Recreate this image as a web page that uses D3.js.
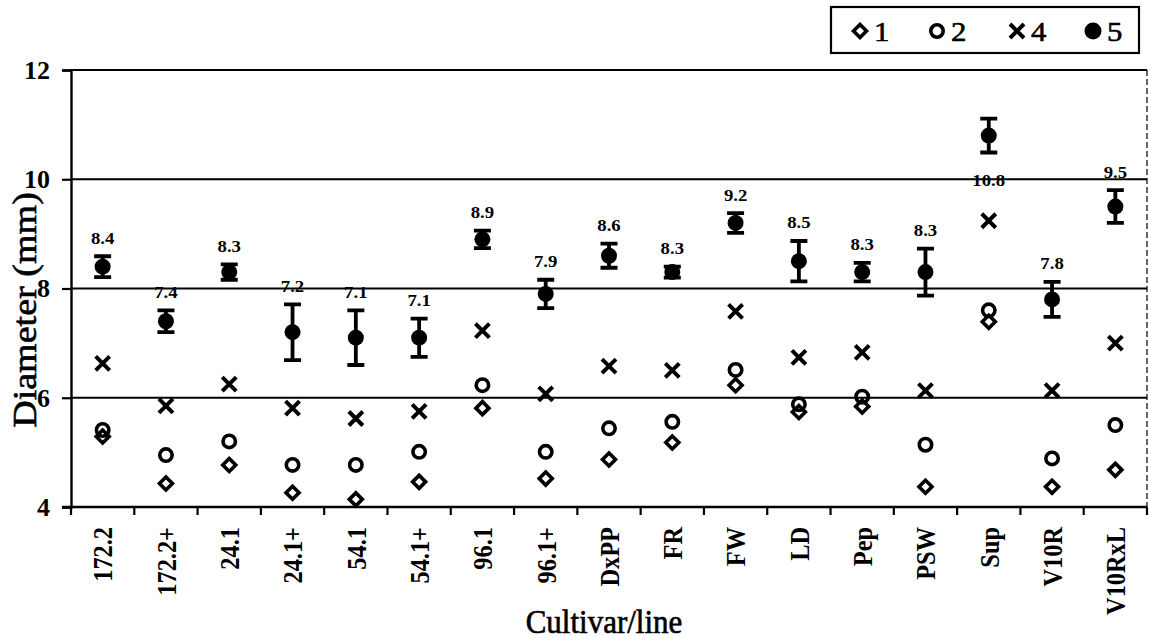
<!DOCTYPE html>
<html>
<head>
<meta charset="utf-8">
<script src="https://cdn.jsdelivr.net/npm/d3@7"></script>
<style>
  html, body { margin: 0; padding: 0; background: #fff; }
  svg { display: block; }
  text { font-family: "Liberation Serif", "Times New Roman", serif; fill: #000; }
</style>
</head>
<body>
<svg id="chart" width="1149" height="643"></svg>
<script>
// Fruit diameter per cultivar/line at four sampling dates
const categories = ["172.2", "172.2+", "24.1", "24.1+", "54.1", "54.1+", "96.1", "96.1+",
  "DxPP", "FR", "FW", "LD", "Pep", "PSW", "Sup", "V10R", "V10RxL"];
const series1 = [5.29, 4.43, 4.77, 4.26, 4.14, 4.46, 5.81, 4.52, 4.87, 5.18, 6.23, 5.74, 5.84, 4.37, 7.39, 4.37, 4.68];
const series2 = [5.41, 4.95, 5.20, 4.77, 4.77, 5.01, 6.23, 5.01, 5.44, 5.56, 6.51, 5.88, 6.02, 5.14, 7.60, 4.89, 5.50];
const series4 = [6.63, 5.85, 6.25, 5.81, 5.62, 5.75, 7.23, 6.07, 6.58, 6.50, 7.58, 6.74, 6.83, 6.13, 9.24, 6.13, 7.00];
const series5 = [8.4, 7.4, 8.3, 7.2, 7.1, 7.1, 8.9, 7.9, 8.6, 8.3, 9.2, 8.5, 8.3, 8.3, 10.8, 7.8, 9.5];
const series5Err = [0.19, 0.20, 0.14, 0.51, 0.50, 0.35, 0.16, 0.26, 0.22, 0.10, 0.18, 0.37, 0.17, 0.43, 0.31, 0.32, 0.30];
const labelsBelow = ["Sup"];
const yTicks = [4, 6, 8, 10, 12];
const legendItems = ["1", "2", "4", "5"];

const svg = d3.select("#chart");
const plot = { left: 71, right: 1147, top: 70, bottom: 507 };

const x = d3.scaleBand().domain(categories).range([plot.left, plot.right]).padding(0);
const y = d3.scaleLinear().domain([4, 12]).range([plot.bottom, plot.top]);
const cx = c => x(c) + x.bandwidth() / 2;

// marker drawing helpers
function diamond(g, px, py, r) {
  g.append("path")
    .attr("d", `M${px},${py - r}L${px + r},${py}L${px},${py + r}L${px - r},${py}Z`)
    .attr("fill", "none").attr("stroke", "#000").attr("stroke-width", 3.6)
    .attr("stroke-linejoin", "miter");
}
function ring(g, px, py, r) {
  g.append("circle").attr("cx", px).attr("cy", py).attr("r", r)
    .attr("fill", "none").attr("stroke", "#000").attr("stroke-width", 3.6);
}
function cross(g, px, py, r) {
  g.append("path")
    .attr("d", `M${px - r},${py - r}L${px + r},${py + r}M${px - r},${py + r}L${px + r},${py - r}`)
    .attr("stroke", "#000").attr("stroke-width", 4).attr("fill", "none");
}
function dot(g, px, py, r) {
  g.append("circle").attr("cx", px).attr("cy", py).attr("r", r).attr("fill", "#000");
}

// gridlines
svg.append("g").selectAll("line")
  .data(yTicks.filter(t => t > 4))
  .join("line")
  .attr("x1", plot.left).attr("x2", plot.right)
  .attr("y1", d => y(d)).attr("y2", d => y(d))
  .attr("stroke", "#000").attr("stroke-width", 1.8);

// right frame edge
svg.append("line")
  .attr("x1", plot.right).attr("x2", plot.right)
  .attr("y1", plot.top).attr("y2", plot.bottom)
  .attr("stroke", "#000").attr("stroke-width", 1.2).attr("stroke-dasharray", "6,3");

// y axis
const yAxis = d3.axisLeft(y).tickValues(yTicks).tickSize(9).tickPadding(12).tickFormat(d3.format("d"));
const yg = svg.append("g").attr("transform", `translate(${plot.left},0)`).call(yAxis);
yg.select(".domain").attr("stroke", "#000").attr("stroke-width", 2.4);
yg.selectAll(".tick line").attr("stroke", "#000").attr("stroke-width", 2.2);
yg.selectAll(".tick text")
  .attr("font-family", "Liberation Serif").attr("font-weight", "bold")
  .attr("font-size", 26).attr("fill", "#000");

// x axis: ticks sit on the category boundaries
const boundaries = d3.range(categories.length + 1).map(i => plot.left + i * x.bandwidth());
const xg = svg.append("g");
xg.append("line")
  .attr("x1", plot.left - 9).attr("x2", plot.right)
  .attr("y1", plot.bottom).attr("y2", plot.bottom)
  .attr("stroke", "#000").attr("stroke-width", 2.4);
xg.selectAll("line.tk").data(boundaries).join("line").attr("class", "tk")
  .attr("x1", d => d).attr("x2", d => d)
  .attr("y1", plot.bottom).attr("y2", plot.bottom + 8)
  .attr("stroke", "#000").attr("stroke-width", 2.2);
xg.selectAll("text").data(categories).join("text")
  .attr("transform", d => `translate(${cx(d)},${plot.bottom + 20}) rotate(-90) scale(0.87,1)`)
  .attr("text-anchor", "end").attr("dy", "0.35em")
  .attr("font-weight", "bold").attr("font-size", 28)
  .text(d => d);

// axis titles
svg.append("text")
  .attr("transform", `translate(36,310) rotate(-90) scale(1.12,1)`)
  .attr("text-anchor", "middle").attr("font-size", 34)
  .attr("stroke", "#000").attr("stroke-width", 0.6)
  .text("Diameter (mm)");
svg.append("text")
  .attr("transform", `translate(604,633) scale(1,1.1)`)
  .attr("text-anchor", "middle").attr("font-size", 31)
  .attr("stroke", "#000").attr("stroke-width", 0.6)
  .text("Cultivar/line");

// series markers
const marks = svg.append("g");
categories.forEach((c, i) => {
  diamond(marks, cx(c), y(series1[i]), 6.5);
  ring(marks, cx(c), y(series2[i]), 6.2);
  cross(marks, cx(c), y(series4[i]), 7);
});

// series 5 with error bars and value labels
const fmt = d3.format(".1f");
categories.forEach((c, i) => {
  const px = cx(c);
  const v = series5[i], e = series5Err[i];
  const yt = y(v + e), yb = y(v - e);
  marks.append("path")
    .attr("d", `M${px},${yt}L${px},${yb}M${px - 8.5},${yt}L${px + 8.5},${yt}M${px - 8.5},${yb}L${px + 8.5},${yb}`)
    .attr("stroke", "#000").attr("stroke-width", 3.8).attr("fill", "none");
  dot(marks, px, y(v), 8);
  const ly = labelsBelow.includes(c) ? yb + 28 : yt - 18;
  marks.append("text")
    .attr("transform", `translate(${px},${ly}) scale(1.25,1.05)`)
    .attr("text-anchor", "middle").attr("dy", "0.35em")
    .attr("font-weight", "bold").attr("font-size", 15)
    .text(fmt(v));
});

// legend
const lg = svg.append("g");
lg.append("rect").attr("x", 831).attr("y", 7).attr("width", 308).attr("height", 46)
  .attr("fill", "#fff").attr("stroke", "#000").attr("stroke-width", 2.2);
const legendX = [860, 937, 1017, 1093];
const drawers = [
  (px, py) => diamond(lg, px, py, 6.5),
  (px, py) => ring(lg, px, py, 6.2),
  (px, py) => cross(lg, px, py, 7),
  (px, py) => dot(lg, px, py, 8.5)
];
legendItems.forEach((name, i) => {
  drawers[i](legendX[i], 31);
  lg.append("text")
    .attr("transform", `translate(${legendX[i] + 14},31) scale(1.1,1)`)
    .attr("dy", "0.35em").attr("font-size", 28)
    .attr("stroke", "#000").attr("stroke-width", 0.6)
    .text(name);
});
</script>
</body>
</html>
